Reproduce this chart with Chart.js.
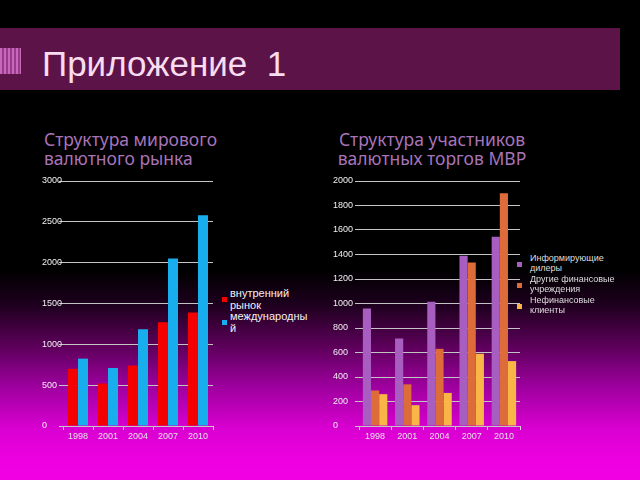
<!DOCTYPE html>
<html><head><meta charset="utf-8">
<script src="https://cdn.jsdelivr.net/npm/chart.js@4.4.1/dist/chart.umd.min.js"></script>
<style>
html,body{margin:0;padding:0;}
body{width:640px;height:480px;overflow:hidden;position:relative;
 background:linear-gradient(to bottom,#000 0px,#000 270px,#1e001e 305px,#5a0058 345px,#a000a0 388px,#d800d0 428px,#ee00e0 460px,#f200e4 480px);
 font-family:"Liberation Sans",Arial,sans-serif;}
#bar{position:absolute;left:0;top:28px;width:620px;height:62px;background:#5c1448;}
#icon{position:absolute;left:0;top:48px;width:21px;height:26px;
 background:repeating-linear-gradient(to right,#c868b8 0px,#c868b8 2px,#9a3a8c 2px,#9a3a8c 4px);}
#title{position:absolute;left:42px;top:46px;font-size:35px;line-height:35px;color:#f8dcf0;white-space:pre;}
.sub{position:absolute;font-family:"Noto Sans",sans-serif;font-size:17.5px;line-height:19px;color:#a874b8;white-space:pre;}
canvas{position:absolute;}
.leg{position:absolute;overflow-wrap:anywhere;}
.sq{position:absolute;}
</style></head>
<body>
<div id="bar"></div>
<div id="icon"></div>
<div id="title">Приложение  1</div>
<div class="sub" style="left:44px;top:130px;">Структура мирового
валютного рынка</div>
<div class="sub" style="left:334px;width:196px;text-align:center;top:130px;">Структура участников
валютных торгов МВР</div>
<canvas id="c1" width="172" height="272" style="left:42px;top:172px;"></canvas>
<canvas id="c2" width="188" height="272" style="left:333px;top:172px;"></canvas>
<div id="legends"></div>
<script>
const years = ['1998','2001','2004','2007','2010'];
const domestic = [700, 520, 740, 1270, 1390];
const international = [825, 710, 1185, 2050, 2580];
const leftNames = ['внутренний рынок','международный'];
const leftColors = ['#f50000','#18aeee'];
const leftYTicks = [0,500,1000,1500,2000,2500,3000];

const dealers = [960, 715, 1015, 1390, 1545];
const otherFin = [290, 340, 630, 1335, 1900];
const nonFin = [260, 170, 270, 590, 530];
const rightNames = ['Информирующие дилеры','Другие финансовые учреждения','Нефинансовые клиенты'];
const rightColors = ['#a85ec0','#de6c3a','#f8b646'];
const rightYTicks = [0,200,400,600,800,1000,1200,1400,1600,1800,2000];

function makeChart(id, series, names, colors, yTicks, yWidth, catPct){
  const datasets = series.map((d,i)=>({label:names[i], data:d, backgroundColor:colors[i],
    borderWidth:0, categoryPercentage:catPct, barPercentage:1}));
  return new Chart(document.getElementById(id), {
    type:'bar',
    data:{labels:years, datasets},
    options:{
      responsive:false, animation:false, devicePixelRatio:1,
      layout:{padding:{top:9,right:1,left:0,bottom:0}},
      plugins:{legend:{display:false}, tooltip:{enabled:false}},
      scales:{
        x:{
          grid:{display:true, offset:true, drawOnChartArea:false, drawTicks:true, tickLength:4, color:'#d8d8d8'},
          border:{display:false},
          ticks:{color:'#e4e4e4', font:{size:9, family:'Liberation Sans'}, padding:1, maxRotation:0, autoSkip:false},
          afterFit:s=>{s.height=18;}
        },
        y:{
          min:yTicks[0], max:yTicks[yTicks.length-1],
          afterBuildTicks:s=>{s.ticks = yTicks.map(v=>({value:v}));},
          grid:{color:'#c4c4c4', lineWidth:1, drawTicks:true, tickLength:4},
          border:{display:false},
          ticks:{crossAlign:'far', color:'#f0f0f0', font:{size:9, family:'Liberation Sans'}, padding:2,
                 callback:v=>String(v)},
          afterFit:s=>{s.width=yWidth;}
        }
      }
    }
  });
}
makeChart('c1',[domestic, international], leftNames, leftColors, leftYTicks, 21, 0.667);
makeChart('c2',[dealers, otherFin, nonFin], rightNames, rightColors, rightYTicks, 26, 0.76);

function makeLegend(names, colors, o){
  const host = document.getElementById('legends');
  names.forEach((n,i)=>{
    const top = o.top + i*o.step;
    const t = document.createElement('div');
    t.className='leg';
    t.textContent = n;
    t.style.cssText += `left:${o.textX}px;top:${top}px;width:${o.width}px;font-size:${o.font}px;line-height:${o.lh}px;color:${o.color};`;
    host.appendChild(t);
    const s = document.createElement('div');
    s.className='sq';
    const h = t.getBoundingClientRect().height;
    s.style.cssText += `left:${o.sqX}px;top:${top + h/2 - o.sq/2 + o.sqDy}px;width:${o.sq}px;height:${o.sq}px;background:${colors[i]};`;
    host.appendChild(s);
  });
}
makeLegend(leftNames, leftColors, {top:288, step:23, textX:230, width:79, font:11, lh:11.5, color:'#f2f2f2', sqX:222, sq:5, sqDy:0});
makeLegend(rightNames, rightColors, {top:254, step:21, textX:530, width:92, font:9, lh:9.5, color:'#dedede', sqX:517, sq:5, sqDy:1});
</script>
</body></html>
